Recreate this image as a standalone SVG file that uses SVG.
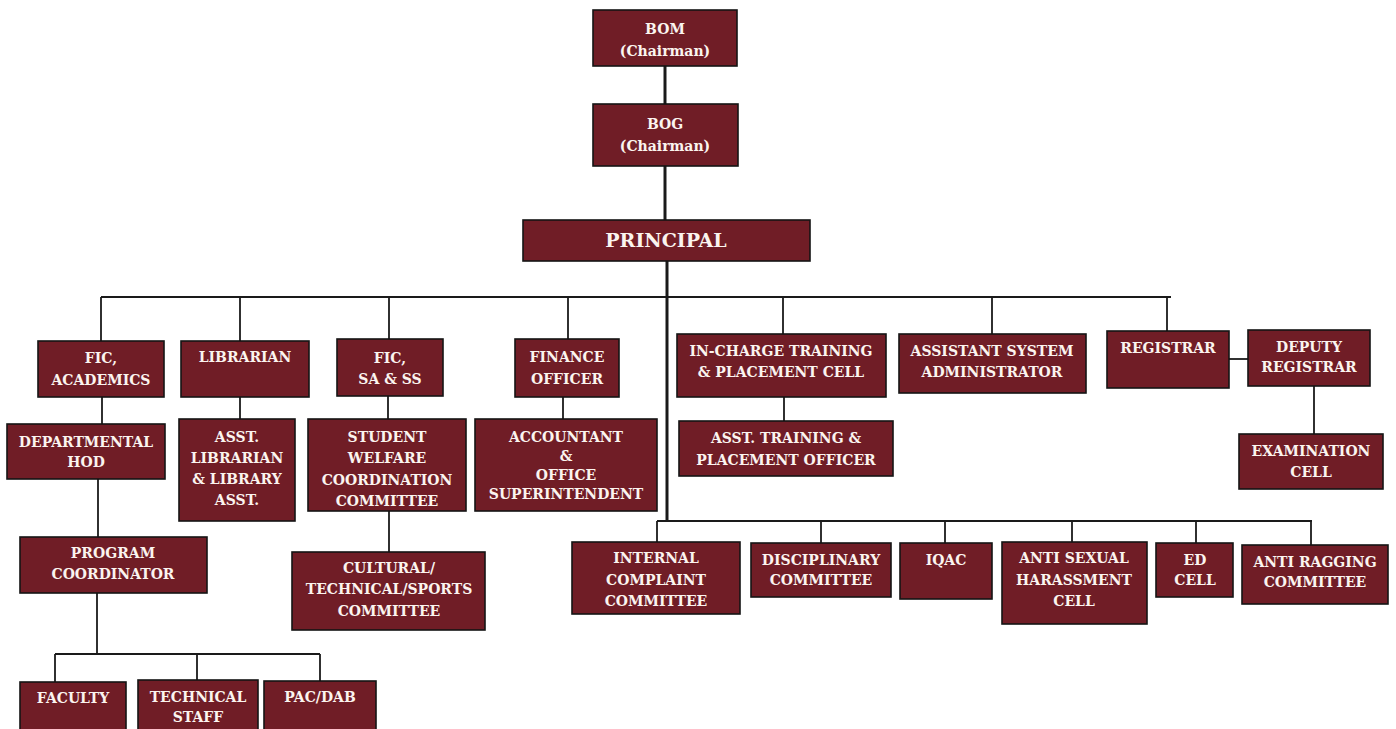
<svg xmlns="http://www.w3.org/2000/svg" width="1396" height="729" viewBox="0 0 1396 729">
<style>
.b rect{fill:#701d26;stroke:#151515;stroke-width:1.6}
.b text{fill:#fbf4ef;font-family:"DejaVu Serif","Liberation Serif",serif;font-weight:bold;font-size:14px;text-anchor:middle}
.c line{stroke:#1a1a1a;stroke-width:1.8}
.c .th{stroke-width:3}
</style>
<rect width="1396" height="729" fill="#fff"/>
<g class="c" id="connectors">
<line class="th" x1="665" y1="66" x2="665" y2="104"/>
<line class="th" x1="665" y1="166" x2="665" y2="220"/>
<line class="th" x1="667" y1="261" x2="667" y2="522"/>
<line x1="101" y1="297" x2="1171" y2="297"/>
<line x1="101" y1="297" x2="101" y2="341"/>
<line x1="240" y1="297" x2="240" y2="341"/>
<line x1="389" y1="297" x2="389" y2="339"/>
<line x1="568" y1="297" x2="568" y2="339"/>
<line x1="783" y1="297" x2="783" y2="334"/>
<line x1="992" y1="297" x2="992" y2="334"/>
<line x1="1167" y1="297" x2="1167" y2="331"/>
<line x1="102" y1="397" x2="102" y2="424"/>
<line x1="240" y1="397" x2="240" y2="419"/>
<line x1="388" y1="396" x2="388" y2="419"/>
<line x1="563" y1="397" x2="563" y2="419"/>
<line x1="784" y1="397" x2="784" y2="421"/>
<line x1="1229" y1="359" x2="1248" y2="359"/>
<line x1="1314" y1="386" x2="1314" y2="434"/>
<line x1="98" y1="479" x2="98" y2="537"/>
<line x1="389" y1="511" x2="389" y2="552"/>
<line x1="97" y1="593" x2="97" y2="654"/>
<line x1="55" y1="654" x2="320" y2="654"/>
<line x1="55" y1="654" x2="55" y2="682"/>
<line x1="197" y1="654" x2="197" y2="680"/>
<line x1="320" y1="654" x2="320" y2="681"/>
<line x1="657" y1="521" x2="1312" y2="521"/>
<line x1="657" y1="521" x2="657" y2="542"/>
<line x1="821" y1="521" x2="821" y2="543"/>
<line x1="945" y1="521" x2="945" y2="543"/>
<line x1="1072" y1="521" x2="1072" y2="542"/>
<line x1="1196" y1="521" x2="1196" y2="543"/>
<line x1="1311" y1="521" x2="1311" y2="545"/>
</g>
<g class="b" id="bom"><rect x="593" y="10" width="144" height="56"/><text x="665" y="34">BOM</text><text x="665" y="56">(Chairman)</text></g>
<g class="b" id="bog"><rect x="593" y="104" width="145" height="62"/><text x="665" y="129">BOG</text><text x="665" y="151">(Chairman)</text></g>
<g class="b" id="principal"><rect x="523" y="220" width="287" height="41"/><text x="666" y="247" style="font-size:19px">PRINCIPAL</text></g>
<g class="b" id="fic-academics"><rect x="38" y="341" width="126" height="56"/><text x="101" y="363">FIC,</text><text x="101" y="385">ACADEMICS</text></g>
<g class="b" id="librarian"><rect x="181" y="341" width="128" height="56"/><text x="245" y="362">LIBRARIAN</text></g>
<g class="b" id="fic-sa"><rect x="337" y="339" width="106" height="57"/><text x="390" y="363">FIC,</text><text x="390" y="384">SA &amp; SS</text></g>
<g class="b" id="finance"><rect x="515" y="339" width="104" height="58"/><text x="567" y="362">FINANCE</text><text x="567" y="384">OFFICER</text></g>
<g class="b" id="incharge-tp"><rect x="677" y="334" width="209" height="63"/><text x="781" y="356">IN-CHARGE TRAINING</text><text x="781" y="377">&amp; PLACEMENT CELL</text></g>
<g class="b" id="asst-sysadmin"><rect x="899" y="334" width="187" height="59"/><text x="992" y="356">ASSISTANT SYSTEM</text><text x="992" y="377">ADMINISTRATOR</text></g>
<g class="b" id="registrar"><rect x="1107" y="331" width="122" height="57"/><text x="1168" y="353">REGISTRAR</text></g>
<g class="b" id="deputy-registrar"><rect x="1248" y="330" width="122" height="56"/><text x="1309" y="352">DEPUTY</text><text x="1309" y="372">REGISTRAR</text></g>
<g class="b" id="dept-hod"><rect x="7" y="424" width="158" height="55"/><text x="86" y="447">DEPARTMENTAL</text><text x="86" y="467">HOD</text></g>
<g class="b" id="asst-librarian"><rect x="179" y="419" width="116" height="102"/><text x="237" y="442">ASST.</text><text x="237" y="463">LIBRARIAN</text><text x="237" y="484">&amp; LIBRARY</text><text x="237" y="505">ASST.</text></g>
<g class="b" id="student-welfare"><rect x="308" y="419" width="158" height="92"/><text x="387" y="442">STUDENT</text><text x="387" y="463">WELFARE</text><text x="387" y="485">COORDINATION</text><text x="387" y="506">COMMITTEE</text></g>
<g class="b" id="accountant"><rect x="475" y="419" width="182" height="92"/><text x="566" y="442">ACCOUNTANT</text><text x="566" y="461">&amp;</text><text x="566" y="480">OFFICE</text><text x="566" y="499">SUPERINTENDENT</text></g>
<g class="b" id="asst-tp"><rect x="679" y="421" width="214" height="55"/><text x="786" y="443">ASST. TRAINING &amp;</text><text x="786" y="465">PLACEMENT OFFICER</text></g>
<g class="b" id="exam-cell"><rect x="1239" y="434" width="144" height="55"/><text x="1311" y="456">EXAMINATION</text><text x="1311" y="477">CELL</text></g>
<g class="b" id="program-coord"><rect x="20" y="537" width="187" height="56"/><text x="113" y="558">PROGRAM</text><text x="113" y="579">COORDINATOR</text></g>
<g class="b" id="cultural"><rect x="292" y="552" width="193" height="78"/><text x="389" y="573">CULTURAL/</text><text x="389" y="594">TECHNICAL/SPORTS</text><text x="389" y="616">COMMITTEE</text></g>
<g class="b" id="faculty"><rect x="20" y="682" width="106" height="52"/><text x="73" y="703">FACULTY</text></g>
<g class="b" id="technical-staff"><rect x="138" y="680" width="120" height="54"/><text x="198" y="702">TECHNICAL</text><text x="198" y="722">STAFF</text></g>
<g class="b" id="pac-dab"><rect x="264" y="681" width="112" height="53"/><text x="320" y="702">PAC/DAB</text></g>
<g class="b" id="internal-complaint"><rect x="572" y="542" width="168" height="72"/><text x="656" y="563">INTERNAL</text><text x="656" y="585">COMPLAINT</text><text x="656" y="606">COMMITTEE</text></g>
<g class="b" id="disciplinary"><rect x="751" y="543" width="140" height="54"/><text x="821" y="565">DISCIPLINARY</text><text x="821" y="585">COMMITTEE</text></g>
<g class="b" id="iqac"><rect x="900" y="543" width="92" height="56"/><text x="946" y="565">IQAC</text></g>
<g class="b" id="anti-sexual"><rect x="1002" y="542" width="145" height="82"/><text x="1074" y="563">ANTI SEXUAL</text><text x="1074" y="585">HARASSMENT</text><text x="1074" y="606">CELL</text></g>
<g class="b" id="ed-cell"><rect x="1156" y="543" width="77" height="54"/><text x="1195" y="565">ED</text><text x="1195" y="585">CELL</text></g>
<g class="b" id="anti-ragging"><rect x="1242" y="545" width="146" height="59"/><text x="1315" y="567">ANTI RAGGING</text><text x="1315" y="587">COMMITTEE</text></g>
</svg>
